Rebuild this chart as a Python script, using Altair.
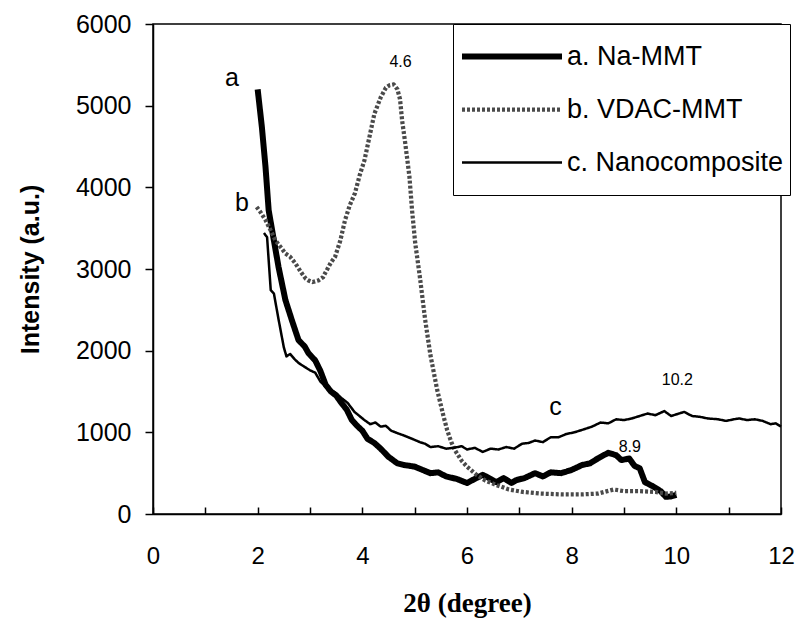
import altair as alt
import pandas as pd

# ---- data ----
series_names = ["a. Na-MMT", "b. VDAC-MMT", "c. Nanocomposite"]

a_x = [2.0, 2.08, 2.15, 2.21, 2.31, 2.4, 2.53, 2.65, 2.78, 2.9, 2.97, 3.1, 3.2, 3.3, 3.4, 3.5, 3.6, 3.7, 3.8, 3.9,
       4.0, 4.1, 4.23, 4.35, 4.5, 4.67, 4.8, 5.0, 5.15, 5.3, 5.45, 5.6, 5.8, 6.0, 6.15, 6.3, 6.45, 6.56, 6.7, 6.85,
       6.94, 7.1, 7.3, 7.45, 7.6, 7.8, 8.0, 8.2, 8.35, 8.5, 8.7, 8.85, 8.95, 9.1, 9.2, 9.3, 9.4, 9.55, 9.7, 9.8,
       9.9, 10.0]
a_y = [5200, 4740, 4250, 3720, 3350, 3020, 2620, 2380, 2130, 2050, 1970, 1880, 1750, 1580, 1500, 1450, 1360, 1280,
       1150, 1080, 1020, 920, 870, 800, 700, 620, 600, 580, 540, 500, 510, 460, 430, 380, 430, 480, 430, 390, 440,
       380, 415, 440, 500, 460, 510, 500, 540, 600, 620, 680, 750, 720, 660, 680, 590, 560, 390, 340, 280, 210,
       215, 235]

b_x = [1.98, 2.05, 2.15, 2.25, 2.34, 2.45, 2.53, 2.62, 2.72, 2.84, 2.92, 2.97, 3.05, 3.16, 3.25, 3.29, 3.4, 3.48,
       3.58, 3.67, 3.76, 3.86, 3.95, 4.04, 4.13, 4.23, 4.35, 4.45, 4.52, 4.6, 4.67, 4.72, 4.76, 4.82, 4.9, 4.95,
       5.01, 5.1, 5.2, 5.3, 5.43, 5.55, 5.62, 5.7, 5.77, 5.9, 6.0, 6.18, 6.35, 6.56, 6.8, 7.07, 7.4, 7.8, 8.2, 8.5,
       8.8, 9.0, 9.3, 9.6, 9.8, 10.0]
b_y = [3760, 3700, 3600, 3470, 3350, 3260, 3190, 3150, 3070, 2950, 2880, 2860, 2840, 2860, 2900, 2950, 3080, 3150,
       3350, 3600, 3780, 3930, 4150, 4330, 4600, 4900, 5100, 5220, 5250, 5260, 5200, 5080, 4820, 4540, 4130, 3720,
       3320, 2900, 2380, 1950, 1520, 1200, 1030, 880, 780, 650, 580, 480, 410, 355, 300, 270, 250, 240, 240, 250,
       300, 280, 280, 270, 250, 260]

c_x = [2.12, 2.18, 2.21, 2.25, 2.31, 2.4, 2.5, 2.55, 2.62, 2.7, 2.78, 2.9, 3.0, 3.1, 3.2, 3.3, 3.4, 3.5, 3.6, 3.72,
       3.85, 4.04, 4.15, 4.25, 4.35, 4.45, 4.55, 4.67, 4.8, 4.99, 5.1, 5.2, 5.3, 5.45, 5.6, 5.74, 5.9, 6.0, 6.15,
       6.3, 6.45, 6.6, 6.75, 6.9, 7.05, 7.18, 7.3, 7.45, 7.6, 7.75, 7.9, 8.05, 8.2, 8.39, 8.55, 8.7, 8.85, 9.0,
       9.15, 9.3, 9.45, 9.6, 9.77, 9.9, 10.05, 10.15, 10.3, 10.45, 10.6, 10.8, 10.95, 11.1, 11.2, 11.35, 11.5,
       11.65, 11.8, 11.9, 12.0]
c_y = [3440, 3390, 3110, 2740, 2700, 2380, 2040, 1930, 1960, 1900, 1850, 1800, 1760, 1730, 1620, 1560, 1520, 1480,
       1420, 1360, 1250, 1150, 1100, 1120, 1070, 1080, 1020, 990, 960, 910, 880, 860, 820, 830, 800, 810, 830, 790,
       810, 760, 800, 790, 820, 800, 860, 870, 900, 880, 940, 940, 980, 1000, 1030, 1070, 1120, 1110, 1160, 1150,
       1170, 1200, 1230, 1210, 1260, 1200, 1230, 1250, 1200, 1190, 1170, 1160, 1140, 1160, 1170, 1150, 1160, 1140,
       1100, 1110, 1070]

letter_text = ["a", "b", "c"]
letter_x = [1.51, 1.70, 7.69]
letter_y = [5340, 3810, 1310]

peak_text = ["4.6", "8.9", "10.2"]
peak_x = [4.73, 9.11, 10.02]
peak_y = [5535, 820, 1640]

x_label_values = [0, 2, 4, 6, 8, 10, 12]
x_tick_values = list(range(0, 13))
y_tick_values = [0, 1000, 2000, 3000, 4000, 5000, 6000]

# ---- tables ----
rows = []
for name, xs, ys in zip(series_names, [a_x, b_x, c_x], [a_y, b_y, c_y]):
    for i, (xv, yv) in enumerate(zip(xs, ys)):
        rows.append({"series": name, "theta": xv, "intensity": yv, "order": i})
df = pd.DataFrame(rows)
letters = pd.DataFrame({"label": letter_text, "theta": letter_x, "intensity": letter_y})
peaks = pd.DataFrame({"label": peak_text, "theta": peak_x, "intensity": peak_y})

SANS = "Liberation Sans"
x_scale = alt.Scale(domain=[0, 12], nice=False, zero=False)
y_scale = alt.Scale(domain=[0, 6000], nice=False)

y_axis = alt.Axis(values=y_tick_values, format="d", title="Intensity (a.u.)", grid=False, tickSize=8,
                  tickWidth=1.5, tickColor="black", domainColor="black", domainWidth=1.5, labelFont=SANS,
                  labelFontSize=25, labelColor="black", labelPadding=14, titleFont=SANS, titleFontSize=25,
                  titleFontWeight="bold", titleColor="black", titlePadding=32)
x_axis = alt.Axis(values=x_label_values, format="d", title="2θ (degree)", grid=False, ticks=False,
                  domainColor="black", domainWidth=1.5, labelFont=SANS, labelFontSize=24, labelColor="black",
                  labelPadding=30, labelFlush=False, titleFont="Liberation Serif", titleFontSize=27,
                  titleFontWeight="bold", titleColor="black", titlePadding=22)
x_tick_axis = alt.Axis(orient="bottom", offset=-7, values=x_tick_values, tickSize=7, tickWidth=1.5,
                       tickColor="black", labels=False, domain=False, grid=False, title=None)

lines = alt.Chart(df).mark_line(interpolate="linear", strokeJoin="round", strokeCap="butt").encode(
    x=alt.X("theta:Q", scale=x_scale, axis=x_axis),
    y=alt.Y("intensity:Q", scale=y_scale, axis=y_axis),
    color=alt.Color("series:N", scale=alt.Scale(domain=series_names, range=["black", "#4a4a4a", "black"]),
                    legend=alt.Legend(title=None)),
    strokeWidth=alt.StrokeWidth("series:N", scale=alt.Scale(domain=series_names, range=[6, 2.5, 3.2]),
                                legend=alt.Legend(title=None)),
    strokeDash=alt.StrokeDash("series:N", scale=alt.Scale(domain=series_names, range=[[1, 0], [3, 2], [1, 0]]),
                              legend=alt.Legend(title=None)),
    order="order:Q",
)

letter_layer = alt.Chart(letters).mark_text(font=SANS, fontSize=25, color="black").encode(
    x=alt.X("theta:Q", scale=x_scale, axis=x_tick_axis),
    y=alt.Y("intensity:Q", scale=y_scale, axis=y_axis),
    text="label:N",
)

peak_layer = alt.Chart(peaks).mark_text(font=SANS, fontSize=16, color="black").encode(
    x=alt.X("theta:Q", scale=x_scale, axis=None),
    y=alt.Y("intensity:Q", scale=y_scale, axis=y_axis),
    text="label:N",
)

chart = alt.layer(lines, letter_layer, peak_layer).resolve_axis(x="independent").properties(
    width=628, height=490,
    padding={"left": 145, "top": 16, "right": 15, "bottom": 106},
    autosize=alt.AutoSizeParams(type="none"),
).configure_view(stroke="black", strokeWidth=1.5).configure_legend(
    orient="none", legendX=300, legendY=0, strokeColor="black", fillColor="white", padding=6,
    symbolType="stroke", symbolSize=10000, clipHeight=53, rowPadding=0, labelFont=SANS, labelFontSize=27,
    labelColor="black", labelOffset=2, labelLimit=400,
)

chart.save("out.html", embed_options={"renderer": "svg", "actions": False})
